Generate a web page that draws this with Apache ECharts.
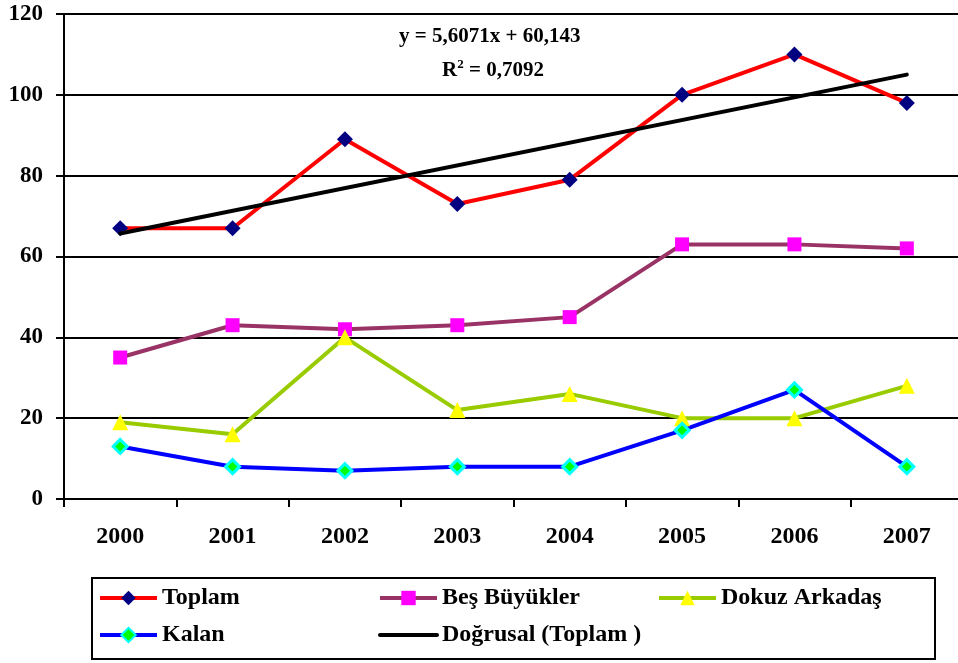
<!DOCTYPE html>
<html><head><meta charset="utf-8">
<script src="https://cdn.jsdelivr.net/npm/echarts@6/dist/echarts.min.js"></script>
<style>html,body{margin:0;padding:0;background:#fff;overflow:hidden}#c{width:972px;height:663px}</style>
</head><body><div id="c"></div>
<script>
var years = ['2000','2001','2002','2003','2004','2005','2006','2007'];
var toplam = [67, 67, 89, 73, 79, 100, 110, 98];
var besBuyukler = [35, 43, 42, 43, 45, 63, 63, 62];
var dokuzArkadas = [19, 16, 40, 22, 26, 20, 20, 28];
var kalan = [13, 8, 7, 8, 8, 17, 27, 8];
var trendStart = 65.7;
var trendEnd = 105.0;
var yTicks = [0, 20, 40, 60, 80, 100, 120];

var FONT = '"Liberation Serif", "Times New Roman", serif';
var chart = echarts.init(document.getElementById('c'), null, {renderer: 'canvas'});
var legTxt = {fontFamily: FONT, fontWeight: 'bold', fontSize: 24, color: '#000'};
function leg(name, left, top, extra) {
  var o = {data: [name], left: left, top: top, itemWidth: 57, itemHeight: 18, itemGap: 0,
    padding: 0, textStyle: legTxt, selectedMode: false, lineStyle: {width: 4}};
  if (extra) for (var k in extra) o[k] = extra[k];
  return o;
}
chart.setOption({
  animation: false,
  backgroundColor: '#fff',
  grid: {left: 64, top: 14, width: 899, height: 485, containLabel: false},
  xAxis: {
    type: 'category', data: years, boundaryGap: true,
    axisLine: {lineStyle: {color: '#000', width: 2}},
    axisTick: {show: true, length: 8, lineStyle: {color: '#000', width: 2}},
    axisLabel: {fontFamily: FONT, fontWeight: 'bold', fontSize: 24, color: '#000', margin: 26},
    splitLine: {show: false}
  },
  yAxis: {
    type: 'value', min: yTicks[0], max: yTicks[yTicks.length - 1], interval: 20,
    axisLine: {show: true, lineStyle: {color: '#000', width: 2}},
    axisTick: {show: true, length: 8, lineStyle: {color: '#000', width: 2}},
    axisLabel: {fontFamily: FONT, fontWeight: 'bold', fontSize: 23, color: '#000', margin: 21},
    splitLine: {show: true, lineStyle: {color: '#000', width: 2}}
  },
  legend: [
    leg('Toplam', 98, 586),
    leg('Beş Büyükler', 378, 586),
    leg('Dokuz Arkadaş', 657, 586),
    leg('Kalan', 98, 623),
    leg('Doğrusal (Toplam )', 378, 623, {itemStyle: {opacity: 0}})
  ],
  graphic: [
    {type: 'rect', shape: {x: 92, y: 578, width: 843, height: 81},
     style: {fill: 'none', stroke: '#000', lineWidth: 2}, z: 0},
    {type: 'text', left: 399, top: 26,
     style: {text: 'y = 5,6071x + 60,143', font: 'bold 21px ' + FONT, fill: '#000'}},
    {type: 'text', left: 442, top: 58,
     style: {text: '{a|R}{s|2}{a| = 0,7092}', fill: '#000',
       rich: {a: {font: 'bold 21px ' + FONT, fill: '#000', verticalAlign: 'bottom'},
              s: {font: 'bold 13px ' + FONT, fill: '#000', verticalAlign: 'top', padding: [0, 0, 10, 0]}}}}
  ],
  series: [
    {name: 'Toplam', type: 'line', data: toplam, z: 5,
     lineStyle: {color: '#ff0000', width: 4}, itemStyle: {color: '#000080'},
     symbol: 'diamond', symbolSize: 16, showAllSymbol: true},
    {name: 'Beş Büyükler', type: 'line', data: besBuyukler,
     lineStyle: {color: '#993366', width: 4}, itemStyle: {color: '#ff00ff'},
     symbol: 'rect', symbolSize: 14},
    {name: 'Dokuz Arkadaş', type: 'line', data: dokuzArkadas,
     lineStyle: {color: '#99cc00', width: 4}, itemStyle: {color: '#ffff00'},
     symbol: 'triangle', symbolSize: 16},
    {name: 'Kalan', type: 'line', data: kalan,
     lineStyle: {color: '#0000ff', width: 4},
     itemStyle: {color: '#00ff00', borderColor: '#00ffff', borderWidth: 3},
     symbol: 'diamond', symbolSize: 14},
    {name: 'Doğrusal (Toplam )', type: 'line', z: 6,
     data: [[0, trendStart], [years.length - 1, trendEnd]],
     lineStyle: {color: '#000', width: 4, cap: 'round'}, itemStyle: {color: '#000'},
     symbol: 'none'}
  ]
});
</script></body></html>
